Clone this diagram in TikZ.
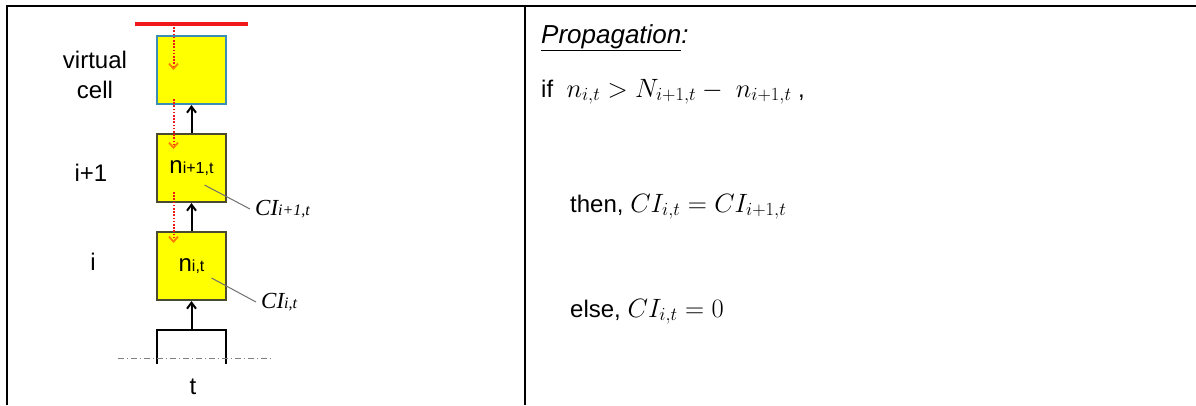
\RequirePackage{fix-cm}
\documentclass[tikz,border=0pt]{standalone}
\usepackage{fontspec}
\setmainfont{Liberation Sans}
\newfontfamily\timesfont{Liberation Serif}
\usepackage{tikz}
\usetikzlibrary{arrows.meta, positioning}
\definecolor{cellYellow}{HTML}{FFFF00}
\definecolor{cellEdge}{HTML}{4A4A30}
\definecolor{virtualEdge}{HTML}{3A8DB5}
\definecolor{fluxRed}{HTML}{F01818}
\definecolor{fluxTip}{HTML}{FF7A00}
\definecolor{leaderGray}{HTML}{707070}
\newcommand{\smallidx}[1]{{\fontsize{16}{16}\selectfont #1}}
\newcommand{\ciname}[1]{{\timesfont\itshape\fontsize{23}{23}\selectfont CI\fontsize{16}{16}\selectfont #1}}
\newcommand{\bigmath}[1]{{\fontsize{26.5}{30}\selectfont$#1$}}

\begin{document}
\begin{tikzpicture}[x=1pt, y=-1pt,
  font=\fontsize{24}{30}\selectfont,
  frame/.style={draw=black, line width=2.5pt},
  cell/.style={draw=cellEdge, fill=cellYellow, line width=2pt, minimum width=69pt,
               minimum height=68pt, inner sep=0pt},
  virtual/.style={cell, draw=virtualEdge},
  lid/.style={draw=fluxRed, line width=3.5pt},
  up/.style={-{Straight Barb[length=6pt,width=9pt]}, draw=black, line width=2pt},
  flux/.style={-{Straight Barb[length=5pt,width=9pt,line width=1.8pt,color=fluxTip]},
               draw=fluxRed, line width=2pt, dash pattern=on 1.6pt off 1.6pt},
  leader/.style={draw=leaderGray, line width=1pt},
  ground/.style={draw=gray, line width=1pt, dash pattern=on 6pt off 3pt on 1pt off 3pt},
  stmt/.style={anchor=base west, inner sep=0pt}
]
\useasboundingbox (0,0) rectangle (1196,405);
\draw[frame] (7,405) -- (7,6) -- (1196,6);
\draw[frame] (525,6) -- (525,405);

\node[virtual] (vcell) at (191.5,70) {};
\node[cell, below=28pt of vcell] (cellip) {n\smallidx{i+1,t}};
\node[cell, below=28pt of cellip] (celli) {n\smallidx{i,t}};
\node[minimum width=68pt, minimum height=34pt, inner sep=0pt, below=29pt of celli] (tcell) {};
\draw[line width=2pt] (tcell.south west) |- (tcell.north east) -- (tcell.south east);

\coordinate (gndL) at (118,358);
\coordinate (gndR) at (272,358);
\draw[ground] (gndL) -- (gndR);

\coordinate (lidL) at (135,24);
\coordinate (lidR) at (248,24);
\coordinate (drop) at (173.5,24);
\draw[lid] (lidL) -- (lidR);

\draw[up] (tcell.north) -- (celli.south);
\draw[up] (celli.north) -- (cellip.south);
\draw[up] (cellip.north) -- (vcell.south);

\draw[flux] (drop) -- ([xshift=-18pt]vcell.center);
\draw[flux] ([shift={(-18,-6)}]vcell.south) -- ([shift={(-18,16)}]cellip.north);
\draw[flux] ([shift={(-18,-11)}]cellip.south) -- ([shift={(-18,12)}]celli.north);

\node[align=center] (vlabel) at (95,75) {virtual\\cell};
\node (iplabel) at (91,173) {i+1};
\node (ilabel) at (93,262) {i};
\node (tlabel) at (193,387) {t};

\node[anchor=west, inner sep=5pt] (ciip) at (250,209) {\ciname{i+1,t}};
\node[anchor=west, inner sep=5pt] (cii) at (256,302) {\ciname{i,t}};
\draw[leader] ([shift={(13,17)}]cellip.center) -- (ciip.west);
\draw[leader] ([shift={(20,12)}]celli.center) -- (cii.west);

\node[stmt, font=\fontsize{26}{30}\selectfont] (title) at (541,43)
  {\underline{\textit{Propagation}}\textit{:}};
\node[stmt] (cond) at (541,97) {if\ \ \bigmath{n_{i,t} > N_{i+1,t} -\ n_{i+1,t}}\ ,};
\node[stmt] (then) at (570,212) {then, \bigmath{CI_{i,t} = CI_{i+1,t}}};
\node[stmt] (else) at (570,317) {else, \bigmath{CI_{i,t} = 0}};
\end{tikzpicture}
\end{document}
